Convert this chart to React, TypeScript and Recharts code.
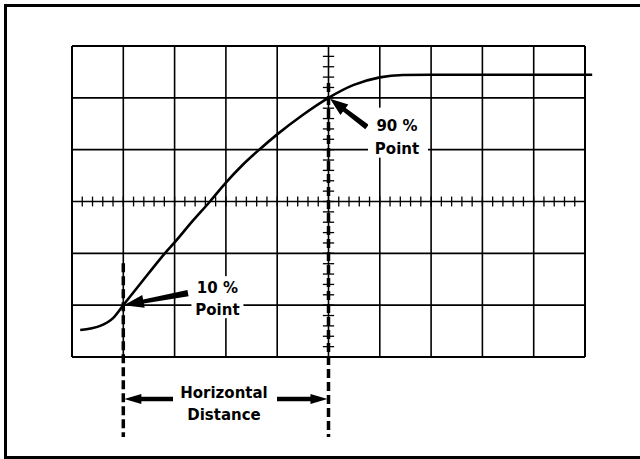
import {
  Line,
  LineChart,
  ReferenceDot,
  ReferenceLine,
  XAxis,
  YAxis,
} from "recharts";

// trace: x in graticule divisions, y in percent of step
const divs = [0.16, 0.55, 0.8, 1.0, 1.49, 1.81, 2.0, 2.34, 2.69, 3.0, 3.31, 3.65, 4.0, 4.49, 5.0, 5.48, 6.0, 6.45, 7.0, 8.0, 9.0, 10.14];
const pcts = [0.4, 2, 5, 10, 22.2, 30, 34.2, 42.2, 50, 57.3, 63.8, 70, 75.9, 83.3, 90, 94.9, 97.9, 98.8, 98.9, 98.9, 98.9, 98.9];

const gridX = [0, 1, 2, 3, 4, 5, 6, 7, 8, 9, 10];
const gridY = [-10, 10, 30, 50, 70, 90, 110];
const minorX = Array.from({ length: 51 }, (_, i) => i * 0.2);
const minorY = Array.from({ length: 31 }, (_, i) => -10 + i * 4);

const data = divs.map((x, i) => ({ x, pct: pcts[i] }));

const FONT = "'DejaVu Sans', sans-serif";

function arrowShape(tailW: number, neckW: number, headW: number, headL: number) {
  return (props: any) => {
    const { x1, y1, x2, y2 } = props;
    const dx = x2 - x1;
    const dy = y2 - y1;
    const len = Math.sqrt(dx * dx + dy * dy);
    const ux = dx / len;
    const uy = dy / len;
    const nx = -uy;
    const ny = ux;
    const bx = x2 - ux * headL;
    const by = y2 - uy * headL;
    const pts = [
      [x1 + nx * tailW, y1 + ny * tailW],
      [bx + nx * neckW, by + ny * neckW],
      [bx + nx * headW, by + ny * headW],
      [x2, y2],
      [bx - nx * headW, by - ny * headW],
      [bx - nx * neckW, by - ny * neckW],
      [x1 - nx * tailW, y1 - ny * tailW],
    ];
    return <polygon points={pts.map((p) => p.join(",")).join(" ")} fill="#000" />;
  };
}

function textBlock(lines: string[], offsets: number[], box: number[]) {
  return (props: any) => {
    const { cx, cy } = props;
    return (
      <g>
        <rect x={cx + box[0]} y={cy + box[1]} width={box[2]} height={box[3]} fill="#fff" />
        {lines.map((t, i) => (
          <text
            key={t}
            x={cx}
            y={cy + offsets[i]}
            textAnchor="middle"
            fontFamily={FONT}
            fontWeight="bold"
            fontSize={15}
            fill="#000"
          >
            {t}
          </text>
        ))}
      </g>
    );
  };
}

export default function App() {
  return (
    <div style={{ position: "absolute", left: 0, top: 0, width: 640, height: 459, overflow: "hidden", background: "#fff" }}>
      <div
        style={{
          position: "absolute",
          left: 4,
          top: 4,
          width: 636,
          height: 455,
          borderTop: "3px solid #000",
          borderLeft: "3px solid #000",
          borderBottom: "3px solid #000",
          boxSizing: "border-box",
        }}
      />
      <div style={{ position: "absolute", left: 0, top: 0 }}>
        <LineChart
          width={640}
          height={459}
          data={data}
          margin={{ left: 61.74, right: 44.74, top: 46, bottom: 11.3 }}
        >
          <XAxis type="number" dataKey="x" domain={[-0.2, 10.2]} hide />
          <YAxis type="number" domain={[-45, 110]} hide />
          {gridX.map((x) => (
            <ReferenceLine
              key={"gx" + x}
              segment={[{ x, y: -10 }, { x, y: 110 }]}
              stroke="#000"
              strokeWidth={x === 0 || x === 10 ? 2 : 1.6}
            />
          ))}
          {gridY.map((y) => (
            <ReferenceLine
              key={"gy" + y}
              segment={[{ x: 0, y }, { x: 10, y }]}
              stroke="#000"
              strokeWidth={y === -10 || y === 110 ? 2 : 1.6}
            />
          ))}
          {minorX.map((x) => (
            <ReferenceLine
              key={"mx" + x}
              segment={[{ x, y: 48.1 }, { x, y: 51.9 }]}
              stroke="#000"
              strokeWidth={1.3}
            />
          ))}
          {minorY.map((y) => (
            <ReferenceLine
              key={"my" + y}
              segment={[{ x: 4.89, y }, { x: 5.11, y }]}
              stroke="#000"
              strokeWidth={1.3}
            />
          ))}
          <ReferenceLine
            segment={[{ x: 1, y: 26.2 }, { x: 1, y: -40.9 }]}
            stroke="#000"
            strokeWidth={3.5}
            strokeDasharray="9 4"
          />
          <ReferenceLine
            segment={[{ x: 5, y: 95.7 }, { x: 5, y: -40.9 }]}
            stroke="#000"
            strokeWidth={3.5}
            strokeDasharray="9 4"
          />
          <Line
            type="monotone"
            dataKey="pct"
            stroke="#000"
            strokeWidth={2.6}
            dot={false}
            isAnimationActive={false}
          />
          <ReferenceLine
            segment={[{ x: 2.261, y: 14.66 }, { x: 1.01, y: 10 }]}
            shape={arrowShape(3.2, 2, 6.5, 20)}
          />
          <ReferenceLine
            segment={[{ x: 5.75, y: 78.75 }, { x: 5.03, y: 89.6 }]}
            shape={arrowShape(2.8, 2.2, 6.5, 18)}
          />
          <ReferenceLine
            segment={[{ x: 1.969, y: -26.2 }, { x: 1.02, y: -26.2 }]}
            shape={arrowShape(2.2, 2.2, 5, 17)}
          />
          <ReferenceLine
            segment={[{ x: 3.996, y: -26.2 }, { x: 4.98, y: -26.2 }]}
            shape={arrowShape(2.2, 2.2, 5, 17)}
          />
          <ReferenceDot
            x={2.835}
            y={10}
            r={0}
            shape={textBlock(["10 %", "Point"], [-12, 10], [-26, -29, 52, 42])}
          />
          <ReferenceDot
            x={6.335}
            y={70}
            r={0}
            shape={textBlock(["90 %", "Point"], [-18.5, 4], [-29, -42, 60, 50])}
          />
          <ReferenceDot
            x={2.963}
            y={-26.2}
            r={0}
            shape={textBlock(["Horizontal", "Distance"], [-1, 21], [0, 0, 0, 0])}
          />
        </LineChart>
      </div>
    </div>
  );
}
